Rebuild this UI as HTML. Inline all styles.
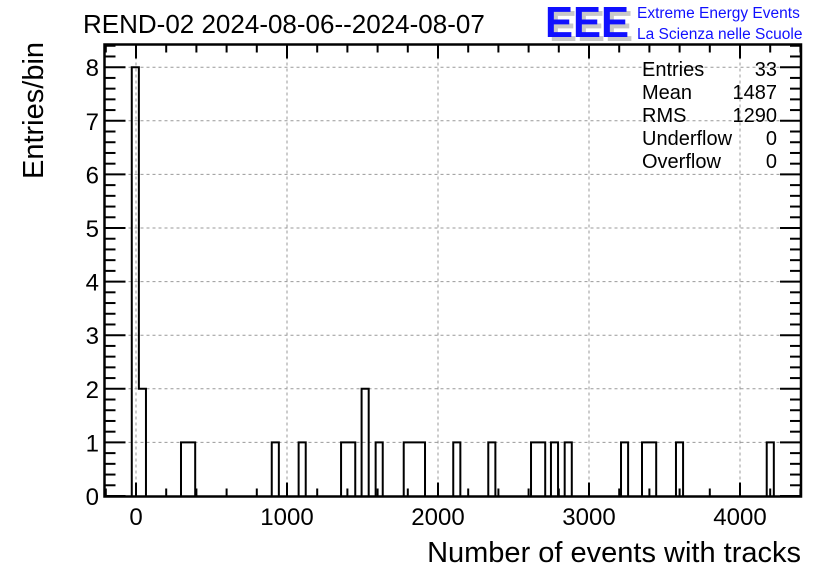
<!DOCTYPE html>
<html><head><meta charset="utf-8"><style>
body{margin:0;background:#fff}
svg{display:block;font-family:"Liberation Sans",Arial,sans-serif}
</style></head><body>
<svg id="c" width="836" height="572" viewBox="0 0 836 572">
<text x="83" y="33" font-size="26">REND-02 2024-08-06--2024-08-07</text>
<g>
<text x="549" y="41" font-size="44" font-weight="bold" fill="#c8c8c8" textLength="84" lengthAdjust="spacingAndGlyphs">EEE</text>
<text x="545" y="37" font-size="44" font-weight="bold" fill="#1010ff" textLength="84" lengthAdjust="spacingAndGlyphs">EEE</text>
<text x="637" y="18" font-size="15.5" fill="#1010ff">Extreme Energy Events</text>
<text x="637" y="39" font-size="15.5" fill="#1010ff">La Scienza nelle Scuole</text>
</g>
<g id="grid"></g>
<g id="bars"></g>
<g id="axes"></g>
<g font-size="20">
<text x="642" y="76">Entries</text><text x="777" y="76" text-anchor="end">33</text>
<text x="642" y="99">Mean</text><text x="777" y="99" text-anchor="end">1487</text>
<text x="642" y="122">RMS</text><text x="777" y="122" text-anchor="end">1290</text>
<text x="642" y="145">Underflow</text><text x="777" y="145" text-anchor="end">0</text>
<text x="642" y="168">Overflow</text><text x="777" y="168" text-anchor="end">0</text>
</g>
<text x="801" y="562" font-size="29" text-anchor="end">Number of events with tracks</text>
<text transform="translate(43,179) rotate(-90)" font-size="29">Entries/bin</text>
</svg>
<script>
const binLow=[-28,19,298,345,899,1077,1358,1405,1494,1587,1773,1820,1867,2101,2333,2616,2663,2748,2839,3212,3351,3398,3576,4177];
const counts=[8,2,1,1,1,1,1,1,2,1,1,1,1,1,1,1,1,1,1,1,1,1,1,1];
const binW=47;
const xTicks=[0,1000,2000,3000,4000];
const yTicks=[0,1,2,3,4,5,6,7,8];
const L=104.5,R=801,T=44.5,B=496.5;
const X=v=>136+v*0.151;
const Y=v=>496-v*53.6;
const NS="http://www.w3.org/2000/svg";
function mk(p,t,a){const e=document.createElementNS(NS,t);for(const k in a)e.setAttribute(k,a[k]);p.appendChild(e);return e;}
const grid=document.getElementById('grid'),bars=document.getElementById('bars'),axes=document.getElementById('axes');
xTicks.forEach(v=>{const l=mk(grid,'line',{x1:X(v),x2:X(v),y1:T,y2:B,stroke:'#999','stroke-dasharray':'3,3','stroke-width':1});

});
yTicks.forEach(v=>{if(v===0)return;const l=mk(grid,'line',{x1:L,x2:R,y1:Y(v),y2:Y(v),stroke:'#999','stroke-dasharray':'3,3','stroke-width':1});

});
// histogram step outline (merged adjacent bins)
let d='';
for(let i=0;i<binLow.length;i++){
  const lo=binLow[i],hi=lo+binW,y=Y(counts[i]);
  const adjPrev=i>0&&Math.abs(binLow[i-1]+binW-lo)<5;
  const adjNext=i<binLow.length-1&&Math.abs(binLow[i+1]-hi)<5;
  if(!adjPrev)d+=`M${X(lo)},${B} L${X(lo)},${y} `;else d+=`L${X(lo)},${y} `;
  d+=`L${X(hi)},${y} `;
  if(!adjNext)d+=`L${X(hi)},${B} `;
}
const h=mk(bars,'path',{d:d,fill:'none',stroke:'#000','stroke-width':2});


const f=mk(axes,'rect',{x:L,y:T,width:R-L,height:B-T,fill:'none',stroke:'#000','stroke-width':2.5});


for(let v=-200;v<=4400;v+=200){const x=X(v);if(x<L||x>R)continue;const major=v%1000===0;const len=major?14:8;
 mk(axes,'line',{x1:x,x2:x,y1:B,y2:B-len,stroke:'#000','stroke-width':2});
 mk(axes,'line',{x1:x,x2:x,y1:T,y2:T+len,stroke:'#000','stroke-width':2});}
xTicks.forEach(v=>{const t=mk(axes,'text',{x:X(v),y:525,'font-size':24,'text-anchor':'middle'});t.textContent=v;

});
for(let k=0;k<=42;k++){const v=k*0.2;const y=Y(v);if(y<T)continue;const major=k%5===0;const len=major?21:11;
 mk(axes,'line',{x1:L,x2:L+len,y1:y,y2:y,stroke:'#000','stroke-width':2});
 mk(axes,'line',{x1:R,x2:R-len,y1:y,y2:y,stroke:'#000','stroke-width':2});}
yTicks.forEach(v=>{const t=mk(axes,'text',{x:99,y:Y(v)+9,'font-size':24,'text-anchor':'end'});t.textContent=v;

});
</script>
</body></html>
